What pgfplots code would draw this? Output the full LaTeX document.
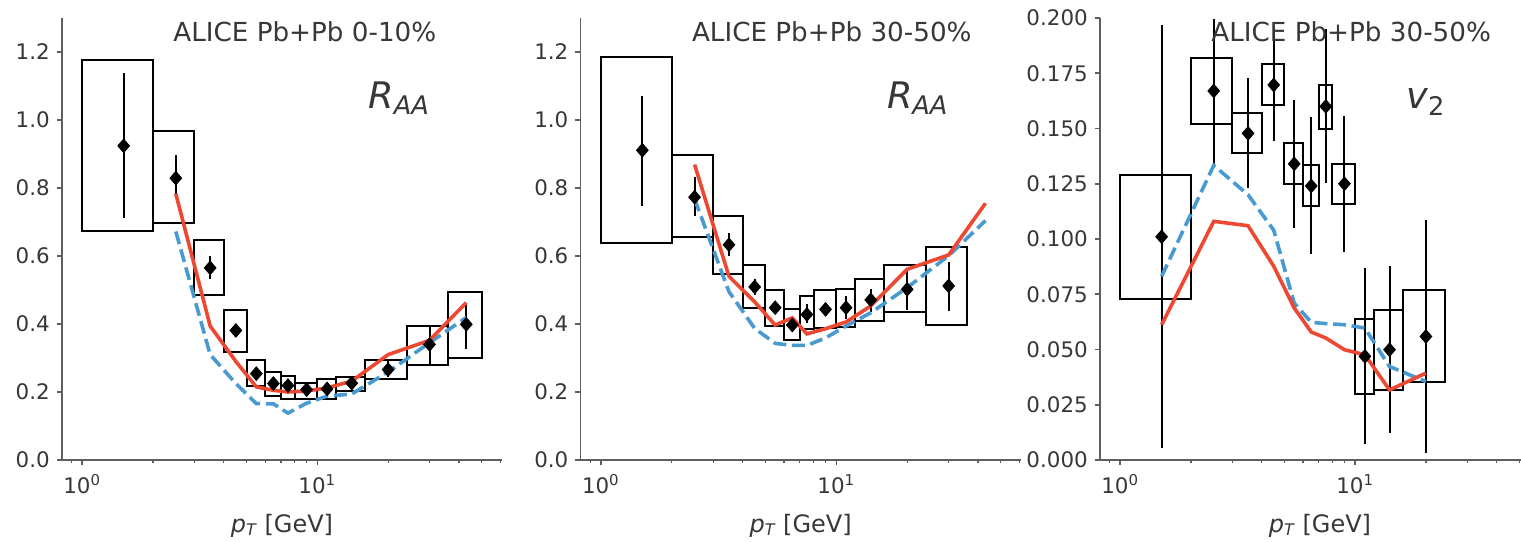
\documentclass[border=0pt]{standalone}
\usepackage{pgfplots}
\usepackage{pgfplotstable}
\pgfplotsset{compat=1.18}
\usepackage{fontspec}
\setmainfont{DejaVu Sans}

\definecolor{cred}{RGB}{236,72,50}
\definecolor{cblue}{RGB}{72,154,208}
\definecolor{ctext}{RGB}{55,55,55}
\definecolor{cspine}{RGB}{95,95,95}

% Panel 1: ALICE Pb+Pb 0-10% R_AA
\pgfplotstableread{
x xlo xhi y blo bhi elo ehi
1.5 1 2 0.924 0.673 1.175 0.712 1.137
2.5 2 3 0.829 0.696 0.967 0.783 0.898
3.5 3 4 0.565 0.486 0.646 0.532 0.601
4.5 4 5 0.381 0.318 0.441 0.363 0.399
5.5 5 6 0.254 0.217 0.294 0.242 0.266
6.5 6 7 0.225 0.187 0.260 0.215 0.235
7.5 7 8 0.219 0.180 0.248 0.209 0.229
9 8 10 0.207 0.180 0.226 0.199 0.215
11 10 12 0.209 0.180 0.238 0.199 0.219
14 12 16 0.226 0.204 0.243 0.214 0.238
20 16 24 0.266 0.238 0.295 0.244 0.290
30 24 36 0.340 0.278 0.394 0.278 0.394
43 36 50 0.399 0.299 0.495 0.327 0.463
}\dataA
\pgfplotstableread{
x y
2.5 0.783
3.5 0.394
4.5 0.290
5.5 0.215
6.5 0.205
7.5 0.200
9 0.203
11 0.212
14 0.232
20 0.310
30 0.352
43 0.463
}\redA
\pgfplotstableread{
x y
2.5 0.672
3.5 0.310
4.5 0.225
5.5 0.166
6.5 0.165
7.5 0.138
9 0.167
11 0.188
14 0.194
20 0.259
30 0.345
43 0.419
}\blueA

% Panel 2: ALICE Pb+Pb 30-50% R_AA
\pgfplotstableread{
x xlo xhi y blo bhi elo ehi
1.5 1 2 0.911 0.637 1.185 0.746 1.071
2.5 2 3 0.773 0.655 0.896 0.719 0.832
3.5 3 4 0.633 0.548 0.719 0.601 0.667
4.5 4 5 0.509 0.446 0.574 0.485 0.532
5.5 5 6 0.448 0.394 0.500 0.435 0.461
6.5 6 7 0.397 0.353 0.445 0.387 0.407
7.5 7 8 0.428 0.386 0.481 0.404 0.458
9 8 10 0.443 0.388 0.500 0.425 0.463
11 10 12 0.448 0.392 0.504 0.414 0.483
14 12 16 0.471 0.409 0.532 0.436 0.504
20 16 24 0.502 0.435 0.574 0.441 0.566
30 24 36 0.512 0.397 0.625 0.438 0.583
}\dataB
\pgfplotstableread{
x y
2.5 0.869
3.5 0.540
4.5 0.465
5.5 0.397
6.5 0.418
7.5 0.371
9 0.386
11 0.406
14 0.453
20 0.561
30 0.603
43 0.755
}\redB
\pgfplotstableread{
x y
2.5 0.768
3.5 0.495
4.5 0.387
5.5 0.343
6.5 0.337
7.5 0.337
9 0.359
11 0.394
14 0.433
20 0.507
30 0.601
43 0.704
}\blueB

% Panel 3: ALICE Pb+Pb 30-50% v2
\pgfplotstableread{
x xlo xhi y blo bhi elo ehi
1.5 1 2 0.101 0.0729 0.1288 0.0053 0.197
2.5 2 3 0.167 0.152 0.1818 0.132 0.1995
3.5 3 4 0.1478 0.1388 0.1569 0.123 0.173
4.5 4 5 0.1697 0.1607 0.179 0.1443 0.195
5.5 5 6 0.134 0.125 0.1433 0.105 0.163
6.5 6 7 0.124 0.1149 0.1333 0.093 0.155
7.5 7 8 0.160 0.1498 0.1697 0.1255 0.195
9 8 10 0.125 0.116 0.134 0.094 0.1557
11 10 12 0.0469 0.0298 0.0638 0.0071 0.0869
14 12 16 0.0499 0.0317 0.068 0.0124 0.0877
20 16 24 0.0559 0.0352 0.0771 0.0033 0.1088
}\dataC
\pgfplotstableread{
x y
1.5 0.0612
2.5 0.108
3.5 0.106
4.5 0.0877
5.5 0.0688
6.5 0.0579
7.5 0.0552
9 0.0499
11 0.0476
14 0.0317
20 0.0393
}\redC
\pgfplotstableread{
x y
1.5 0.0831
2.5 0.1333
3.5 0.120
4.5 0.104
5.5 0.071
6.5 0.0623
7.5 0.0617
9 0.0612
11 0.0597
14 0.0423
20 0.0355
}\blueC

\newcommand\drawboxes[1]{%
  \pgfplotstablegetrowsof{#1}%
  \pgfmathtruncatemacro\lastrow{\pgfplotsretval-1}%
  \foreach \rr in {0,...,\lastrow}{%
    \pgfplotstablegetelem{\rr}{xlo}\of{#1}\let\xa\pgfplotsretval
    \pgfplotstablegetelem{\rr}{xhi}\of{#1}\let\xb\pgfplotsretval
    \pgfplotstablegetelem{\rr}{blo}\of{#1}\let\ya\pgfplotsretval
    \pgfplotstablegetelem{\rr}{bhi}\of{#1}\let\yb\pgfplotsretval
    \edef\tmp{\noexpand\draw[black, line width=1pt] (axis cs:\xa,\ya) rectangle (axis cs:\xb,\yb);}%
    \tmp
  }%
}

\newcommand\panelnotes[2]{%
  \node[anchor=base west, font=\fontsize{13.1}{15}\selectfont, text=ctext, xshift=55.5pt, yshift=209.2pt, inner sep=0pt] at (rel axis cs:0,0) {#1};
  \node[anchor=base west, font=\fontsize{18.3}{20}\selectfont, text=ctext, xshift=153pt, yshift=175.9pt, inner sep=0pt] at (rel axis cs:0,0) {#2};
  \node[anchor=base, font=\fontsize{12}{14}\selectfont, text=ctext, xshift=110pt, yshift=-36pt, inner sep=0pt] at (rel axis cs:0,0) {{\itshape p}\textsubscript{\itshape T} [GeV]};
  \node[anchor=base, font=\fontsize{10.7}{12}\selectfont, text=ctext, yshift=-16.5pt, inner sep=0pt] at (axis cs:1,0) {10\textsuperscript{0}};
  \node[anchor=base, font=\fontsize{10.7}{12}\selectfont, text=ctext, yshift=-16.5pt, inner sep=0pt] at (axis cs:10,0) {10\textsuperscript{1}};
}

\newcommand\datapoints[1]{%
  \addplot[only marks, black, mark=diamond*, mark size=3.4pt,
    mark options={xscale=1.15, fill=black, draw=black},
    error bars/y dir=both, error bars/y explicit, error bars/error mark=none,
    error bars/error bar style={line width=1pt, black}]
    table[x=x, y=y, y error plus expr=\thisrow{ehi}-\thisrow{y}, y error minus expr=\thisrow{y}-\thisrow{elo}] {#1};
}

\pgfplotsset{
  every axis/.append style={
    xmode=log, log basis x=10,
    scale only axis, height=221pt,
    anchor=south west,
    clip=false,
    axis lines=left,
    axis line style={-, cspine, line width=0.8pt},
    tick align=outside,
    major tick length=2.6pt, minor tick length=1.6pt,
    tick style={cspine, line width=0.8pt},
    minor tick style={line width=0.6pt},
    xmin=0.82,
    xtick={1,10},
    xticklabels={},
    tick label style={font=\fontsize{10.7}{12}\selectfont, text=ctext},
    scaled y ticks=false,
    ymin=0,
  },
}

\begin{document}
\begin{tikzpicture}
% Panel 1
\begin{axis}[
    at={(31pt,40.5pt)}, width=220pt, xmax=61,
    minor xtick={0.9,2,3,4,5,6,7,8,9,20,30,40,50,60},
    ymax=1.3,
    ytick={0,0.2,0.4,0.6,0.8,1.0,1.2},
    yticklabel style={/pgf/number format/fixed, /pgf/number format/fixed zerofill, /pgf/number format/precision=1, /pgf/number format/assume math mode=true},
  ]
  \drawboxes{\dataA}
  \datapoints{\dataA}
  \addplot[cblue, line width=1.8pt, no marks, dash pattern=on 6.5pt off 2.8pt] table[x=x,y=y] {\blueA};
  \addplot[cred, line width=1.8pt, no marks] table[x=x,y=y] {\redA};
  \panelnotes{ALICE Pb+Pb 0-10\%}{\itshape R\textsubscript{AA}}
\end{axis}
% Panel 2
\begin{axis}[
    at={(290.3pt,40.5pt)}, width=220.3pt, xmax=61,
    minor xtick={0.9,2,3,4,5,6,7,8,9,20,30,40,50,60},
    ymax=1.3,
    ytick={0,0.2,0.4,0.6,0.8,1.0,1.2},
    yticklabel style={/pgf/number format/fixed, /pgf/number format/fixed zerofill, /pgf/number format/precision=1, /pgf/number format/assume math mode=true},
  ]
  \drawboxes{\dataB}
  \datapoints{\dataB}
  \addplot[cblue, line width=1.8pt, no marks, dash pattern=on 6.5pt off 2.8pt] table[x=x,y=y] {\blueB};
  \addplot[cred, line width=1.8pt, no marks] table[x=x,y=y] {\redB};
  \panelnotes{ALICE Pb+Pb 30-50\%}{\itshape R\textsubscript{AA}}
\end{axis}
% Panel 3
\begin{axis}[
    at={(550pt,40.5pt)}, width=210.5pt, xmax=50.8,
    minor xtick={0.9,2,3,4,5,6,7,8,9,20,30,40,50},
    ymax=0.2,
    ytick={0,0.025,0.05,0.075,0.1,0.125,0.15,0.175,0.2},
    yticklabel style={/pgf/number format/fixed, /pgf/number format/fixed zerofill, /pgf/number format/precision=3, /pgf/number format/assume math mode=true},
  ]
  \drawboxes{\dataC}
  \datapoints{\dataC}
  \addplot[cblue, line width=1.8pt, no marks, dash pattern=on 6.5pt off 2.8pt] table[x=x,y=y] {\blueC};
  \addplot[cred, line width=1.8pt, no marks] table[x=x,y=y] {\redC};
  \panelnotes{ALICE Pb+Pb 30-50\%}{{\itshape v}\textsubscript{2}}
\end{axis}
\pgfresetboundingbox
\path[use as bounding box] (0,0) rectangle (760.5pt,270.5pt);
\end{tikzpicture}
\end{document}
